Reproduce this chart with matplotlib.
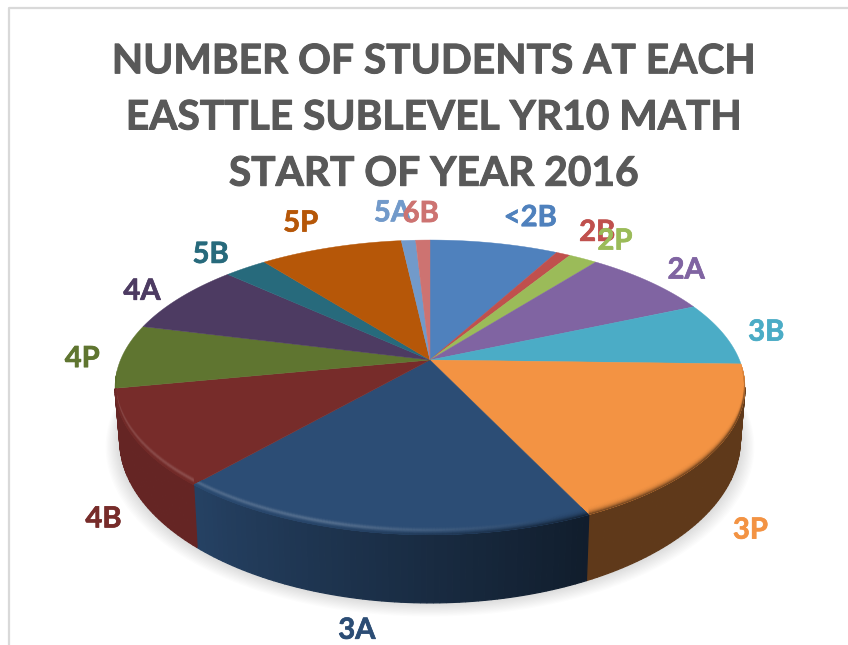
import numpy as np
import matplotlib
matplotlib.use("Agg")
import matplotlib.pyplot as plt
import matplotlib.patheffects as pe
from matplotlib.collections import LineCollection
from matplotlib.colors import to_rgb

labels = ["<2B", "2B", "2P", "2A", "3B", "3P", "3A", "4B", "4P", "4A", "5B", "5P", "5A", "6B"]
students = [9, 1, 2, 9, 8, 20, 21, 12, 8, 9, 3, 10, 1, 1]
colors = ["#4f81bd", "#c0504d", "#9bbb59", "#8064a2", "#4bacc6", "#f39343", "#2c4d75",
          "#772c2a", "#5f7530", "#4d3b62", "#276a7c", "#b65708", "#729aca", "#cd7371"]
label_dx = [36, 34, 32, 37, 43, 32, -21, -31, -40, -38, -35, -30, -16, -2]
label_dy = [-25, -21, -17, -11, -1, 84, 98, 81, 3, -6, -13, -24, -27, -26]
title = "NUMBER OF STUDENTS AT EACH\nEASTTLE SUBLEVEL YR10 MATH\nSTART OF YEAR 2016"

cx, cy = 430, 360
a, b, k = 142.3, 309.5, 0.186
front_start, front_end = 100.7, 258.8


def project(theta, r=1.0):
    t = np.radians(theta)
    u, v = r * np.sin(t), r * np.cos(t)
    den = 1 + k * v
    return cx + b * u / den, cy - a * v / den


def lower(theta, r=1.0):
    # same rim at the foot of the wall, a bit narrower
    x, y = project(theta, r)
    den = 1 + k * np.cos(np.radians(theta))
    return cx + (x - cx) * 0.985, y + 50 / den ** 1.5


def mix(c1, c2, t):
    return tuple(np.array(c1) * (1 - t) + np.array(c2) * t)


def side_shade(theta):
    return np.interp(theta, [155, 221, 259], [0.38, 0.85, 0.85], left=0.39)


plt.rcParams["font.family"] = ["Lato", "DejaVu Sans"]
fig = plt.figure(figsize=(8.48, 6.45), dpi=100)
ax = fig.add_axes([0, 0, 1, 1])
ax.set_xlim(0, 848)
ax.set_ylim(645, 0)
ax.axis("off")

# frame of the pasted screenshot
ax.plot([9, 9, 848], [645, 8, 8], color="#d9d9d9", lw=1.6)

angles = np.cumsum([0] + students) / sum(students) * 360

# soft shadow
circle = np.linspace(0, 360, 361)
for s in np.linspace(14, 1, 12):
    x, y = lower(circle, 1 + s / 320)
    ax.fill(x, y + s * 0.3, color="black", alpha=0.012, lw=0, zorder=1)

# outer wall
for i, c in enumerate(colors):
    lo, hi = max(angles[i], front_start), min(angles[i + 1], front_end)
    if hi <= lo:
        continue
    grid = np.linspace(lo, hi, int(hi - lo) + 2)
    for t0, t1 in zip(grid[:-1], grid[1:]):
        x0, y0 = project(t0)
        x1, y1 = project(t1)
        x2, y2 = lower(t1)
        x3, y3 = lower(t0)
        shade = mix((0, 0, 0), to_rgb(c), side_shade((t0 + t1) / 2))
        ax.fill([x0, x1, x2, x3], [y0, y1, y2, y3], fc=shade, ec=shade, lw=0.9, zorder=2)

# top surface, with a bevel a few pixels above the front edge
for i, c in enumerate(colors):
    th = np.linspace(angles[i], angles[i + 1], 80)
    x, y = project(th)
    wedge = ax.fill(np.r_[cx, x], np.r_[cy, y], color=c, lw=0.3, zorder=3)[0]

    lo, hi = max(angles[i], front_start - 8), min(angles[i + 1], front_end + 4)
    if hi <= lo:
        continue
    grid = np.linspace(lo, hi, int((hi - lo) * 2) + 2)
    for s in np.linspace(9, 0, 14):
        t = 1 - s / 9
        segs, cols = [], []
        for t0, t1 in zip(grid[:-1], grid[1:]):
            x0, y0 = project(t0)
            x1, y1 = project(t1)
            mid = (t0 + t1) / 2
            light = np.interp(mid, [160, 195, 250, 263], [0, 0.2, 0.14, 0], left=0)
            dark = np.interp(mid, [92, 108, 155, 200], [0, 0.85, 0.85, 0.35], right=0.35)
            col = mix(to_rgb(c), (1, 1, 1), light * np.exp(-((t - 0.55) / 0.22) ** 2))
            wall = mix((0, 0, 0), to_rgb(c), side_shade(mid))
            col = mix(col, wall, dark * t ** 3)
            segs.append([(x0, y0 - s), (x1, y1 - s)])
            cols.append(col)
        lc = LineCollection(segs, colors=cols, linewidths=1.3, zorder=4)
        ax.add_collection(lc)
        lc.set_clip_path(wedge)

# labels
for i, lab in enumerate(labels):
    mid = (angles[i] + angles[i + 1]) / 2
    x, y = project(mid)
    ax.text(x + label_dx[i], y + label_dy[i], lab, color=colors[i], fontsize=21,
            fontweight="bold", ha="center", va="center", zorder=5,
            path_effects=[pe.withStroke(linewidth=0.5, foreground=colors[i])])

ax.text(434, 118, title, color="#595959", fontsize=29.3, fontweight="bold",
        ha="center", va="center", linespacing=1.64, zorder=5,
        path_effects=[pe.withStroke(linewidth=0.7, foreground="#595959")])

fig.savefig("out.png", dpi=100)
